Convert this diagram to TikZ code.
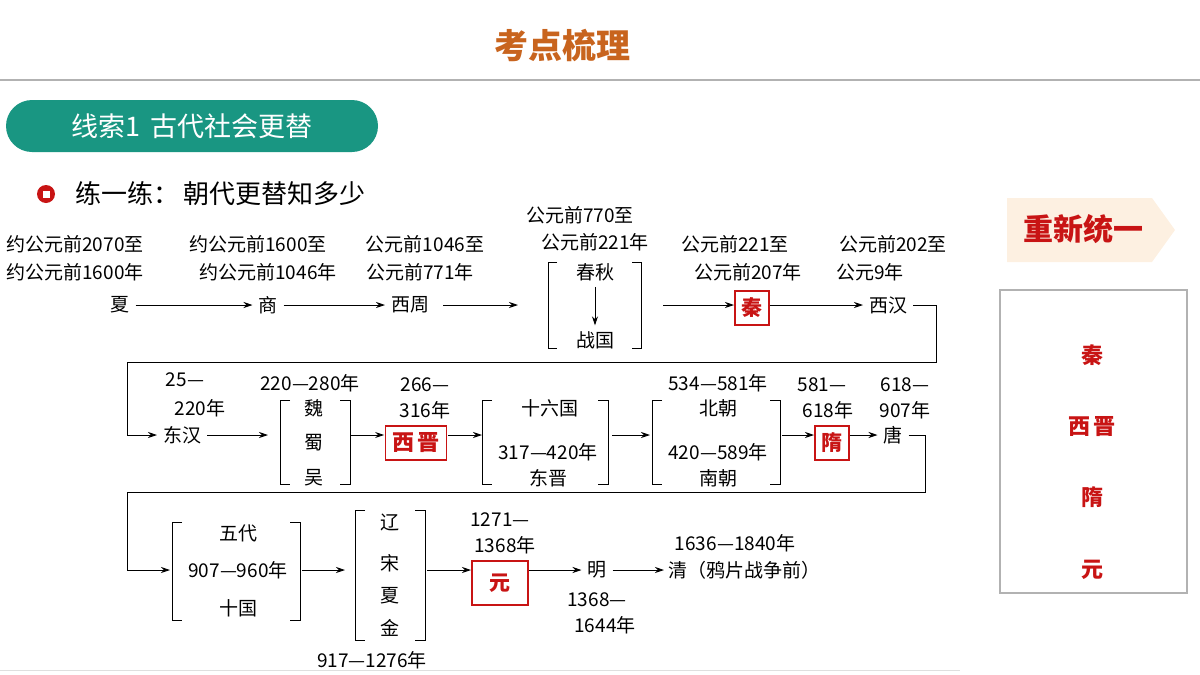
\documentclass[tikz,border=0pt]{standalone}
\usepackage{fontspec}
\setmainfont{Liberation Serif}
\newfontfamily\cjk{Noto Sans CJK SC}
\usetikzlibrary{arrows.meta}
\definecolor{titlebrown}{RGB}{200,100,30}
\definecolor{pillteal}{RGB}{25,150,130}
\definecolor{markred}{RGB}{200,20,20}
\definecolor{tagfill}{RGB}{253,240,225}
\tikzset{
  t/.style={inner sep=0pt,outer sep=6pt,font=\cjk\fontsize{19}{21}\selectfont},
  red box/.style={draw=markred,line width=1.2pt,text=markred,inner sep=5pt,outer sep=1pt,minimum size=34pt,font=\cjk\bfseries\fontsize{21}{23}\selectfont},
  go/.style={-{Stealth[length=9pt,width=6pt]},line width=0.9pt},
  brk/.style={line width=1pt},
}
\begin{document}
\begin{tikzpicture}[x=1pt,y=-1pt]
\useasboundingbox (0,0) rectangle (1200,675);

% header
\node[font=\cjk\bfseries\fontsize{34}{36}\selectfont,text=titlebrown] (title) at (562,45) {考点梳理};
\draw[gray!60,line width=1.2pt] (0,80) -- (1200,80);
\node[fill=pillteal,rounded corners=26pt,minimum width=372pt,minimum height=52pt,text=white,font=\cjk\fontsize{27}{29}\selectfont] (clue) at (192,126) {线索1\, 古代社会更替};
\node[circle,fill=markred,minimum size=18pt,inner sep=0pt] (dot) at (46,194) {};
\node[fill=white,minimum size=7pt,inner sep=0pt] at (dot) {};
\node[anchor=west,font=\cjk\fontsize{26}{28}\selectfont] (sub) at (72,194) {练一练：\,朝代更替知多少};

% row 1
\node[t] (xia) at (120,305) {夏};
\node[t] at (75,244) {约公元前2070至};
\node[t] at (75,272) {约公元前1600年};
\node[t] (shang) at (268,305) {商};
\node[t] at (258,244) {约公元前1600至};
\node[t] at (268,272) {约公元前1046年};
\node[t] (xizhou) at (410,305) {西周};
\node[t] at (425,244) {公元前1046至};
\node[t] at (420,272) {公元前771年};
\node[t] (chunqiu) at (595,272) {春秋};
\node[t] (zhanguo) at (595,340) {战国};
\node[t] at (580,215) {公元前770至};
\node[t] at (595,242) {公元前221年};
\draw[brk] (557,262) -- (548,262) -- (548,348) -- (557,348);
\draw[brk] (632,262) -- (641,262) -- (641,348) -- (632,348);
\coordinate (cqL) at (548,305);
\coordinate (cqR) at (641,305);
\node[red box] (qin) at (752,308) {秦};
\node[t] at (735,244) {公元前221至};
\node[t] at (748,272) {公元前207年};
\node[t] (xihan) at (888,305) {西汉};
\node[t] at (893,244) {公元前202至};
\node[t] at (870,272) {公元9年};
\draw[go] (xia) -- (shang);
\draw[go] (shang) -- (xizhou);
\draw[go] (xizhou.east) ++(8,0) -- ([xshift=-30pt]cqL);
\draw[go] (chunqiu) -- (zhanguo);
\draw[go] ([xshift=22pt]cqR) -- (qin.west |- cqR);
\draw[go] (qin.east |- cqR) -- (xihan);

% row 2
\node[t] (donghan) at (182,435) {东汉};
\node[t] at (185,380) {25—};
\node[t] at (200,408) {220年};
\draw[go,-] (xihan.east) -- (936,305) -- (936,362) -- (127,362) -- (127,435);
\draw[go] (127,435) -- (donghan);
\node[t] (wei) at (314,408) {魏};
\node[t] (shu) at (314,443) {蜀};
\node[t] (wu) at (314,478) {吴};
\node[t] at (310,383) {220—280年};
\draw[brk] (290,400) -- (280,400) -- (280,484) -- (290,484);
\draw[brk] (340,400) -- (350,400) -- (350,484) -- (340,484);
\node[red box,font=\cjk\bfseries\fontsize{22}{24}\selectfont,inner xsep=7pt] (xijin) at (416,443) {西\,晋};
\node[t] at (425,385) {266—};
\node[t] at (425,410) {316年};
\node[t] (shiliu) at (550,408) {十六国};
\node[t] at (548,452) {317—420年};
\node[t] (dongjin) at (548,478) {东晋};
\draw[brk] (492,400) -- (482,400) -- (482,484) -- (492,484);
\draw[brk] (598,400) -- (608,400) -- (608,484) -- (598,484);
\node[t] (beichao) at (718,408) {北朝};
\node[t] at (718,383) {534—581年};
\node[t] at (718,452) {420—589年};
\node[t] (nanchao) at (718,478) {南朝};
\draw[brk] (662,400) -- (652,400) -- (652,484) -- (662,484);
\draw[brk] (770,400) -- (780,400) -- (780,484) -- (770,484);
\node[red box] (sui) at (832,443) {隋};
\node[t] at (822,385) {581—};
\node[t] at (828,410) {618年};
\node[t] (tang) at (893,435) {唐};
\node[t] at (905,385) {618—};
\node[t] at (905,410) {907年};
\draw[go] (donghan) -- (268,435);
\draw[go] (350,435) -- (xijin.west |- 0,435);
\draw[go] (xijin.east |- 0,435) -- (482,435);
\draw[go] (612,435) -- (650,435);
\draw[go] (782,435) -- (sui.west |- 0,435);
\draw[go] (sui.east |- 0,435) -- (tang);

% row 3
\draw[go,-] (tang.east) -- (925,435) -- (925,492) -- (127,492) -- (127,570);
\draw[go] (127,570) -- (170,570);
\node[t] (wudai) at (238,533) {五代};
\node[t] at (238,570) {907—960年};
\node[t] (shiguo) at (238,608) {十国};
\draw[brk] (182,522) -- (172,522) -- (172,620) -- (182,620);
\draw[brk] (290,522) -- (300,522) -- (300,620) -- (290,620);
\node[t] (liao) at (390,522) {辽};
\node[t] (song) at (390,563) {宋};
\node[t] (xixia) at (390,596) {夏};
\node[t] (jin) at (390,628) {金};
\node[t] at (372,660) {917—1276年};
\draw[brk] (365,510) -- (355,510) -- (355,640) -- (365,640);
\draw[brk] (415,510) -- (425,510) -- (425,640) -- (415,640);
\node[red box,minimum width=56pt,minimum height=44pt] (yuan) at (500,583) {元};
\node[t] at (500,520) {1271—};
\node[t] at (505,545) {1368年};
\node[t] (ming) at (597,570) {明};
\node[t] at (597,600) {1368—};
\node[t] at (605,625) {1644年};
\node[t,anchor=west,outer sep=0pt] (qing) at (668,570) {清（鸦片战争前）};
\node[t] at (735,543) {1636—1840年};
\draw[go] (302,570) -- (345,570);
\draw[go] (427,570) -- (yuan.west |- 0,570);
\draw[go] (yuan.east |- 0,570) -- (ming);
\draw[go,shorten >=4pt] (ming) -- (qing);
\draw[gray!25,line width=1pt] (0,670) -- (960,670);

% side panel
\fill[tagfill] (1007,198) -- (1152,198) -- (1175,230) -- (1152,262) -- (1007,262) -- cycle;
\node[text=markred,font=\cjk\bfseries\fontsize{30}{32}\selectfont] (again) at (1083,229) {重新统一};
\draw[gray!60,line width=2pt] (1000,290) rectangle (1187,593);
\tikzset{side/.style={text=markred,font=\cjk\bfseries\fontsize{22}{24}\selectfont}}
\node[side] (sqin) at (1092,355) {秦};
\node[side] (sxijin) at (1092,427) {西\,晋};
\node[side] (ssui) at (1092,497) {隋};
\node[side] (syuan) at (1092,570) {元};
\end{tikzpicture}
\end{document}
